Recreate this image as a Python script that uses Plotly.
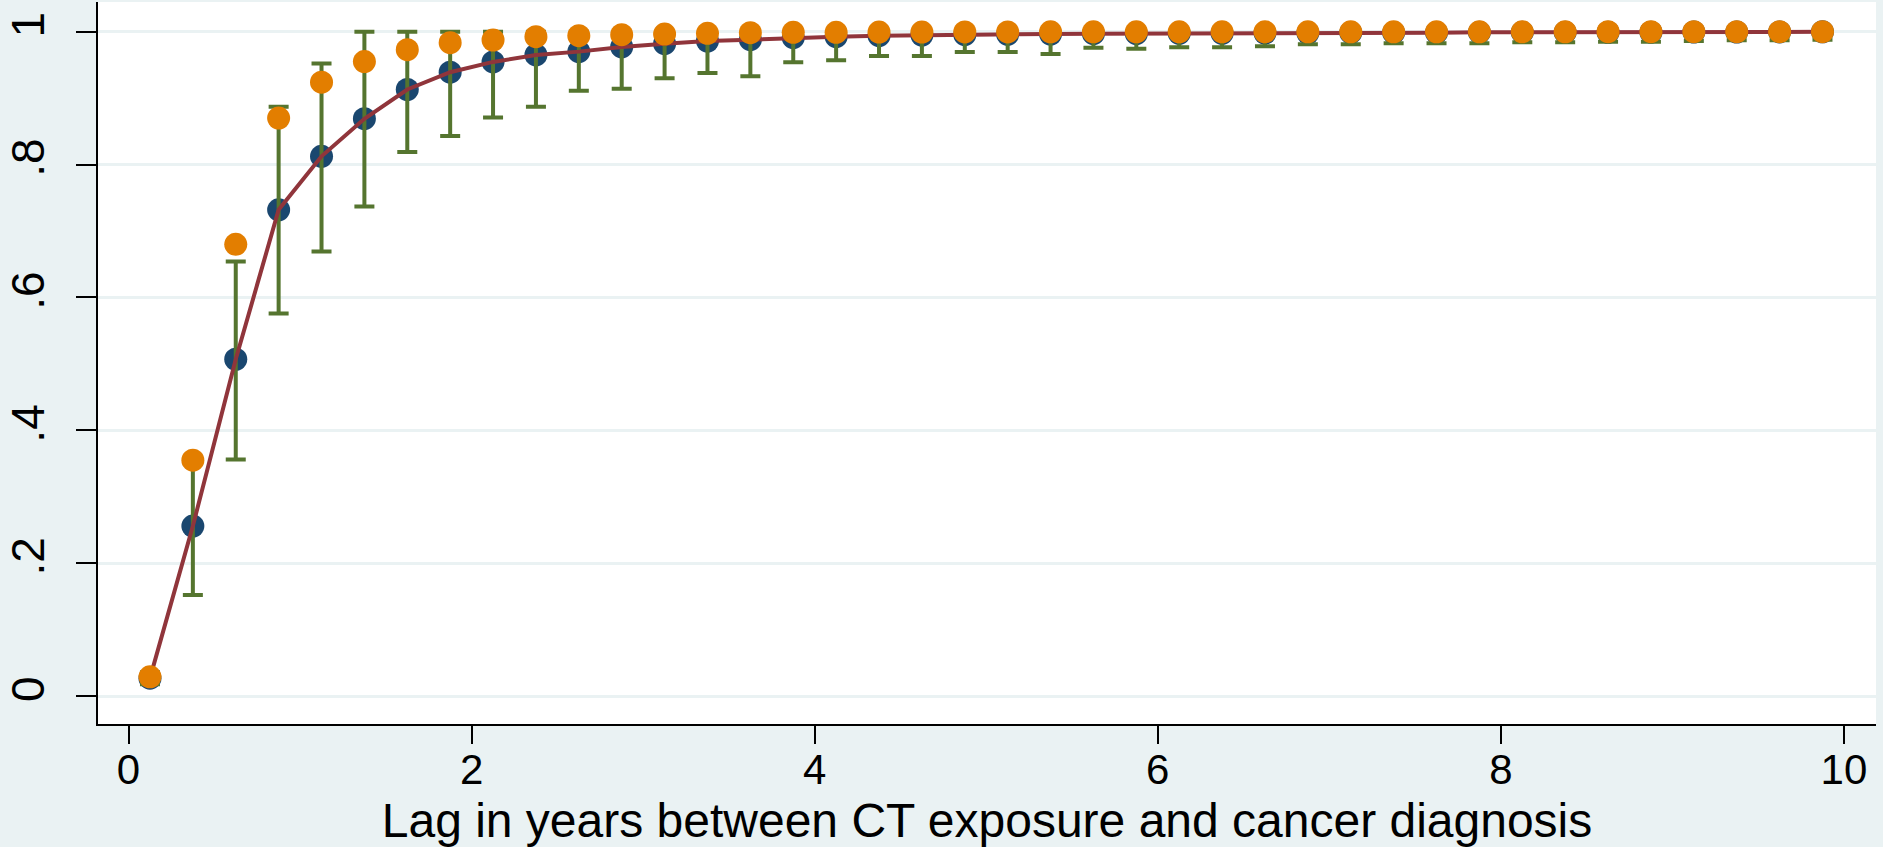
import plotly.graph_objects as go

# Lag (years) at which each estimate is reported
lag = [0.125, 0.375, 0.625, 0.875, 1.125, 1.375, 1.625, 1.875, 2.125, 2.375,
       2.625, 2.875, 3.125, 3.375, 3.625, 3.875, 4.125, 4.375, 4.625, 4.875,
       5.125, 5.375, 5.625, 5.875, 6.125, 6.375, 6.625, 6.875, 7.125, 7.375,
       7.625, 7.875, 8.125, 8.375, 8.625, 8.875, 9.125, 9.375, 9.625, 9.875]

# Estimated cumulative proportion (navy points, maroon line)
estimate = [0.027, 0.256, 0.507, 0.732, 0.8125, 0.869, 0.913, 0.939, 0.9545, 0.965,
            0.970, 0.977, 0.982, 0.986, 0.988, 0.991, 0.9925, 0.994, 0.995, 0.9955,
            0.996, 0.9965, 0.997, 0.997, 0.9975, 0.9975, 0.998, 0.998, 0.9985, 0.9985,
            0.9985, 0.999, 0.999, 0.999, 0.999, 0.9992, 0.9995, 0.9995, 0.9997, 0.9998]

# Second series (orange points)
observed = [0.029, 0.355, 0.680, 0.870, 0.924, 0.955, 0.973, 0.9835, 0.9875, 0.9925,
            0.994, 0.9955, 0.9965, 0.9975, 0.9985, 0.999, 0.999, 0.9995, 0.9995, 0.9997,
            0.9997, 0.9998, 0.9998, 0.9998, 0.9998, 0.9998, 0.9999, 0.9999, 0.9999, 0.9999,
            0.9999, 0.9999, 0.9999, 0.9999, 1.0, 1.0, 1.0, 1.0, 1.0, 1.0]

# Confidence interval bounds (green bars)
ci_low = [0.018, 0.152, 0.356, 0.576, 0.669, 0.737, 0.819, 0.843, 0.871, 0.887,
          0.911, 0.914, 0.930, 0.938, 0.933, 0.954, 0.957, 0.9635, 0.9635, 0.9695,
          0.9695, 0.9665, 0.976, 0.9745, 0.9765, 0.9765, 0.978, 0.981, 0.981, 0.9825,
          0.9825, 0.9825, 0.984, 0.984, 0.985, 0.985, 0.986, 0.987, 0.987, 0.988]
ci_high = [0.036, 0.350, 0.654, 0.887, 0.952, 1.0, 1.0, 1.0, 1.0, 1.0,
           1.0, 1.0, 1.0, 1.0, 1.0, 1.0, 1.0, 1.0, 1.0, 1.0,
           1.0, 1.0, 1.0, 1.0, 1.0, 1.0, 1.0, 1.0, 1.0, 1.0,
           1.0, 1.0, 1.0, 1.0, 1.0, 1.0, 1.0, 1.0, 1.0, 1.0]

x_ticks = [0, 2, 4, 6, 8, 10]
y_ticks = [0, 0.2, 0.4, 0.6, 0.8, 1.0]
y_tick_labels = ["0", ".2", ".4", ".6", ".8", "1"]
x_title = "Lag in years between CT exposure and cancer diagnosis"

NAVY = "#1a476f"
MAROON = "#90353b"
GREEN = "#55752f"
ORANGE = "#e37e00"
BG = "#EAF2F3"
FONT = "Liberation Sans, Arial, sans-serif"

err_plus = [max(h - e, 0) for h, e in zip(ci_high, estimate)]
err_minus = [max(e - l, 0) for e, l in zip(estimate, ci_low)]

fig = go.Figure()

fig.add_trace(go.Scatter(
    x=lag, y=estimate, mode="markers",
    marker=dict(color=NAVY, size=23, line=dict(width=0)),
    hoverinfo="skip"))

fig.add_trace(go.Scatter(
    x=lag, y=estimate, mode="markers",
    marker=dict(color="rgba(0,0,0,0)", size=1),
    error_y=dict(type="data", symmetric=False, array=err_plus, arrayminus=err_minus,
                 color=GREEN, thickness=4, width=10),
    hoverinfo="skip"))

fig.add_trace(go.Scatter(
    x=lag, y=estimate, mode="lines",
    line=dict(color=MAROON, width=4),
    hoverinfo="skip"))

fig.add_trace(go.Scatter(
    x=lag, y=observed, mode="markers",
    marker=dict(color=ORANGE, size=23, line=dict(width=0)),
    hoverinfo="skip"))

fig.update_layout(
    width=1883, height=847,
    margin=dict(l=94, r=7, t=2, b=123),
    paper_bgcolor=BG, plot_bgcolor="white",
    showlegend=False,
    font=dict(family=FONT, color="black"),
    xaxis=dict(
        range=[-0.178, 10.187], tickvals=x_ticks,
        ticks="outside", ticklen=18, tickwidth=1.5, tickcolor="black",
        showline=True, linecolor="black", linewidth=2,
        showgrid=False, zeroline=False,
        tickfont=dict(size=42, family=FONT, color="black"),
        ticklabelstandoff=-10,
        title=dict(text=x_title, font=dict(size=48, family=FONT, color="black"), standoff=16),
    ),
    yaxis=dict(
        range=[-0.042, 1.0447], tickvals=y_ticks, ticktext=y_tick_labels,
        tickangle=-90,
        ticks="outside", ticklen=20, tickwidth=1.5, tickcolor="black",
        showline=True, linecolor="black", linewidth=2,
        showgrid=True, gridcolor=BG, gridwidth=3, zeroline=False,
        tickfont=dict(size=46, family=FONT, color="black"),
        ticklabelstandoff=14,
    ),
)

fig.write_html("out.html")
